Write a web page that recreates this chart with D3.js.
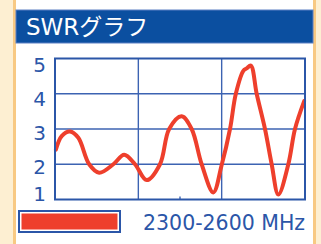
<!DOCTYPE html>
<html>
<head>
<meta charset="utf-8">
<script src="https://cdn.jsdelivr.net/npm/d3@7"></script>
<style>
  html, body { margin: 0; padding: 0; background: #fdefd2; }
  svg { display: block; }
</style>
</head>
<body>
<svg id="chart" width="321" height="244"></svg>
<script>
// data
const title = "SWRグラフ";
const bandLabel = "2300-2600 MHz";
const freqDomain = [2300, 2600];
const swrTicks = [1, 2, 3, 4, 5];
const freqGrid = [2300, 2400, 2500, 2600];
const centerFreq = [2450];
const freqs = [2301, 2308, 2318, 2328, 2341, 2353, 2370, 2383, 2396, 2410,
               2426, 2437, 2452, 2464, 2476, 2490, 2500, 2510, 2517, 2526,
               2530, 2535, 2542, 2552, 2560, 2568, 2580, 2588, 2599];
const swr   = [2.41, 2.8, 2.93, 2.75, 2.0, 1.76, 2.0, 2.27, 2.0, 1.55,
               2.0, 3.0, 3.36, 3.0, 2.0, 1.2, 1.98, 3.0, 4.0, 4.65,
               4.72, 4.8, 4.0, 3.0, 2.0, 1.14, 2.0, 3.0, 3.79];

const blue = "#2b56a8";
const red = "#ee3f2c";

const svg = d3.select("#chart");

// white panel between the orange stripes
svg.append("rect").attr("x", 13).attr("y", 0).attr("width", 303).attr("height", 244)
  .attr("fill", "#f8c983");
svg.append("rect").attr("x", 16).attr("y", 0).attr("width", 297).attr("height", 244)
  .attr("fill", "#ffffff");

// title bar
svg.append("rect").attr("x", 16).attr("y", 10).attr("width", 297).attr("height", 33)
  .attr("fill", "#0b4fa0").attr("stroke", "#5c80c4").attr("stroke-width", 1);
svg.append("text").attr("x", 26).attr("y", 35)
  .attr("fill", "#fff")
  .style("font-family", "'DejaVu Sans', 'Noto Sans CJK JP', sans-serif")
  .style("font-size", "23px")
  .text(title);

const x = d3.scaleLinear().domain(freqDomain).range([55, 305]);
const y = d3.scaleLinear().domain([1, 5]).range([199.5, 58.5]);
// labels sit a little off the grid lines in the original
const yLabel = d3.scaleLinear().domain([1, 2, 5]).range([201, 174, 71.7]);

const g = svg.append("g");

// grid
g.selectAll(".hg").data(swrTicks.slice(1, -1)).join("line")
  .attr("x1", x.range()[0]).attr("x2", x.range()[1])
  .attr("y1", d => y(d)).attr("y2", d => y(d))
  .attr("stroke", "#3c63b2").attr("stroke-width", 1.4);
g.selectAll(".vg").data(freqGrid.slice(1, -1)).join("line")
  .attr("x1", d => x(d)).attr("x2", d => x(d))
  .attr("y1", y.range()[1]).attr("y2", y.range()[0])
  .attr("stroke", "#3c63b2").attr("stroke-width", 1.4);
g.selectAll(".ct").data(centerFreq).join("line")
  .attr("x1", d => x(d)).attr("x2", d => x(d))
  .attr("y1", y(1) - 3).attr("y2", y(1))
  .attr("stroke", "#3c63b2").attr("stroke-width", 1.4);

// curve
const line = d3.line()
  .x((d, i) => x(freqs[i]))
  .y(d => y(d))
  .curve(d3.curveCatmullRom.alpha(0.5));
g.append("path").datum(swr)
  .attr("d", line)
  .attr("fill", "none")
  .attr("stroke", red)
  .attr("stroke-width", 4)
  .attr("stroke-linejoin", "round")
  .attr("stroke-linecap", "round");

// frame
g.append("rect")
  .attr("x", x.range()[0]).attr("y", y.range()[1])
  .attr("width", x.range()[1] - x.range()[0])
  .attr("height", y.range()[0] - y.range()[1])
  .attr("fill", "none").attr("stroke", blue).attr("stroke-width", 2);

// y labels
g.selectAll(".yl").data(swrTicks).join("text")
  .attr("x", 46).attr("y", d => yLabel(d))
  .attr("text-anchor", "end")
  .attr("fill", blue)
  .style("font-family", "'DejaVu Sans', sans-serif")
  .style("font-size", "20px")
  .text(d => d);

// legend
svg.append("rect").attr("x", 19).attr("y", 211).attr("width", 101).attr("height", 21)
  .attr("fill", "#fff").attr("stroke", blue).attr("stroke-width", 2);
svg.append("rect").attr("x", 21.5).attr("y", 213.5).attr("width", 96).attr("height", 16)
  .attr("fill", red);
svg.append("text").attr("x", 143).attr("y", 229.5)
  .attr("fill", blue)
  .style("font-family", "'DejaVu Sans', sans-serif")
  .style("font-size", "20.5px")
  .text(bandLabel);
</script>
</body>
</html>
